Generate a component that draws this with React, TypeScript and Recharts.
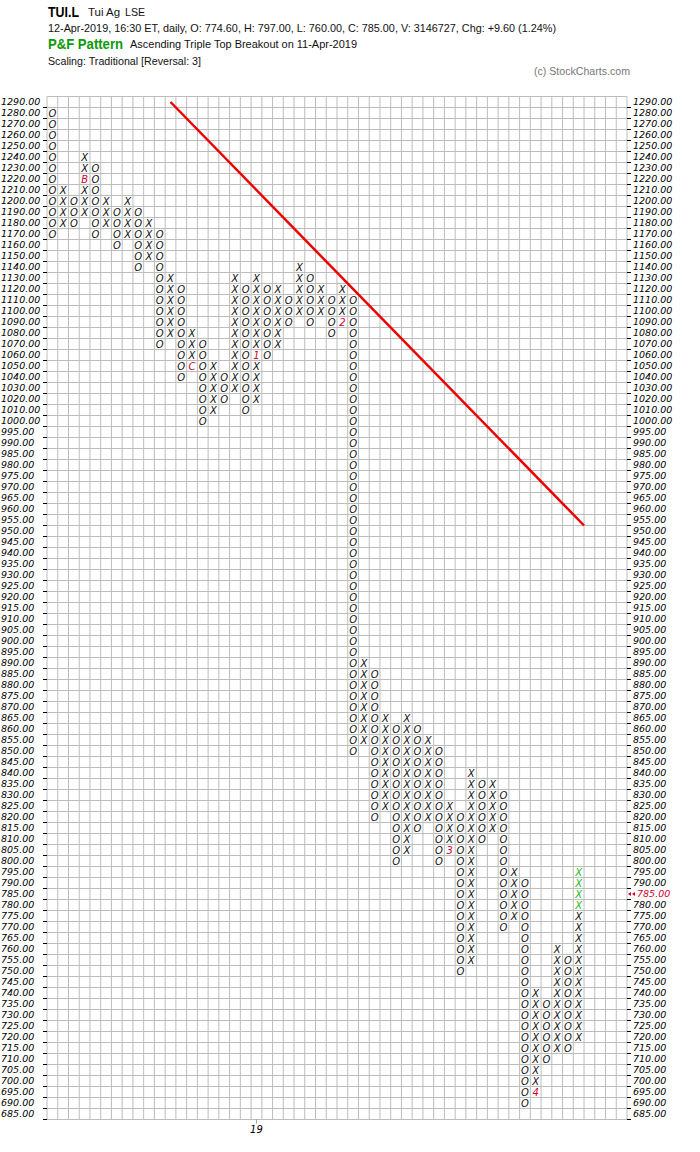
import React from 'react';
import {
  ScatterChart,
  Scatter,
  XAxis,
  YAxis,
  CartesianGrid,
  ReferenceLine,
} from 'recharts';

// Box ladder, top to bottom (10-point boxes above 1000, 5-point below)
const PRICE_LEVELS = [
  1290, 1280, 1270, 1260, 1250, 1240, 1230, 1220, 1210, 1200,
  1190, 1180, 1170, 1160, 1150, 1140, 1130, 1120, 1110, 1100,
  1090, 1080, 1070, 1060, 1050, 1040, 1030, 1020, 1010, 1000,
  995, 990, 985, 980, 975, 970, 965, 960, 955, 950,
  945, 940, 935, 930, 925, 920, 915, 910, 905, 900,
  895, 890, 885, 880, 875, 870, 865, 860, 855, 850,
  845, 840, 835, 830, 825, 820, 815, 810, 805, 800,
  795, 790, 785, 780, 775, 770, 765, 760, 755, 750,
  745, 740, 735, 730, 725, 720, 715, 710, 705, 700,
  695, 690, 685,
];

// One entry per P&F column: direction, top box, bottom box
const COL_TYPES = [
  'O', 'X', 'O', 'X', 'O', 'X', 'O', 'X', 'O', 'X',
  'O', 'X', 'O', 'X', 'O', 'X', 'O', 'X', 'O', 'X',
  'O', 'X', 'O', 'X', 'O', 'X', 'O', 'X', 'O', 'X',
  'O', 'X', 'O', 'X', 'O', 'X', 'O', 'X', 'O', 'X',
  'O', 'X', 'O', 'X', 'O', 'X', 'O', 'X', 'O', 'X',
];
const COL_HIGHS = [
  1280, 1210, 1200, 1240, 1230, 1200, 1190, 1200, 1190, 1180,
  1170, 1130, 1120, 1080, 1070, 1050, 1040, 1130, 1120, 1130,
  1120, 1120, 1110, 1140, 1130, 1120, 1110, 1120, 1110, 890,
  885, 865, 860, 865, 860, 855, 850, 825, 820, 840,
  835, 835, 830, 795, 790, 740, 735, 760, 755, 795,
];
const COL_LOWS = [
  1170, 1180, 1180, 1190, 1170, 1180, 1160, 1170, 1140, 1150,
  1070, 1080, 1040, 1050, 1000, 1010, 1020, 1030, 1010, 1020,
  1060, 1070, 1090, 1100, 1090, 1100, 1080, 1090, 850, 855,
  820, 825, 800, 805, 815, 820, 800, 805, 750, 755,
  810, 815, 770, 775, 690, 695, 710, 715, 715, 720,
];

// Month markers written in place of a box
const MARK_COLS = [3, 13, 19, 27, 37, 45];
const MARK_PRICES = [1220, 1050, 1060, 1090, 805, 695];
const MARK_TEXT = ['B', 'C', '1', '2', '3', '4'];

// Boxes added in the latest session
const NEW_COL = 49;
const NEW_PRICES = [780, 785, 790, 795];

// Year marker along the bottom
const YEAR_COLS = [19];
const YEAR_TEXT = ['19'];

// Bearish resistance line
const TREND_COLS = [11, 49.5];
const TREND_PRICES = [1290, 952.5];

const LAST_CLOSE = 785;
const GRID_COLS = 54;

const TICKER = 'TUI.L';
const NAME = 'Tui Ag';
const EXCHANGE = 'LSE';
const QUOTE_LINE =
  '12-Apr-2019, 16:30 ET, daily, O: 774.60, H: 797.00, L: 760.00, C: 785.00, V: 3146727, Chg: +9.60 (1.24%)';
const PATTERN = 'Ascending Triple Top Breakout on 11-Apr-2019';
const SCALING = 'Scaling: Traditional [Reversal: 3]';

const CRIMSON = '#cc0033';
const GREEN = '#22bb22';

// row index on the P&F price scale (box size changes at 1000)
const rowOf = (p: number) => (p >= 1000 ? (1290 - p) / 10 : 29 + (1000 - p) / 5);

const boxes: any[] = [];
COL_TYPES.forEach((t, c) => {
  PRICE_LEVELS.forEach((p) => {
    if (p > COL_HIGHS[c] || p < COL_LOWS[c]) return;
    const m = MARK_COLS.findIndex((mc, j) => mc === c && MARK_PRICES[j] === p);
    let glyph = t;
    let color = '#111';
    if (m >= 0) {
      glyph = MARK_TEXT[m];
      color = CRIMSON;
    } else if (c === NEW_COL && NEW_PRICES.includes(p)) {
      color = GREEN;
    }
    boxes.push({ col: c, row: rowOf(p), glyph, color });
  });
});

const colBounds = Array.from({ length: GRID_COLS + 1 }, (_, i) => i - 0.5);
const rowBounds = Array.from({ length: PRICE_LEVELS.length + 1 }, (_, i) => i - 0.5);
const rowTicks = PRICE_LEVELS.map((_, i) => i);
const rowDomain = [-0.5, PRICE_LEVELS.length - 0.5];
const colDomain = [-0.5, GRID_COLS - 0.5];

const labelFont = { fontFamily: 'DejaVu Sans', fontStyle: 'italic', fontSize: 9.5 } as const;

const BoxGlyph = (props: any) => {
  const { cx, cy, payload } = props;
  if (cx == null || cy == null) return null;
  return (
    <text
      x={cx}
      y={cy}
      dy="0.37em"
      textAnchor="middle"
      fontFamily="DejaVu Sans"
      fontStyle="italic"
      fontSize={10}
      fill={payload.color}
    >
      {payload.glyph}
    </text>
  );
};

const LeftTick = (props: any) => {
  const { x, y, payload } = props;
  const price = PRICE_LEVELS[payload.value];
  return (
    <g>
      <text x={x - 46} y={y} dy="0.36em" fill="#000" {...labelFont}>
        {price.toFixed(2)}
      </text>
      <line x1={x - 4} x2={x} y1={y + 5.5} y2={y + 5.5} stroke="#000" />
    </g>
  );
};

const RightTick = (props: any) => {
  const { x, y, payload } = props;
  const price = PRICE_LEVELS[payload.value];
  const last = price === LAST_CLOSE;
  return (
    <g>
      <line x1={x} x2={x + 4} y1={y + 5.5} y2={y + 5.5} stroke="#000" />
      {last && (
        <g fill={CRIMSON}>
          <polygon points={`${x + 1},${y} ${x + 4},${y - 2} ${x + 4},${y + 2}`} />
          <polygon points={`${x + 5},${y} ${x + 8},${y - 2} ${x + 8},${y + 2}`} />
        </g>
      )}
      <text x={x + (last ? 10 : 6)} y={y} dy="0.36em" fill={last ? CRIMSON : '#000'} {...labelFont}>
        {price.toFixed(2)}
      </text>
    </g>
  );
};

const YearTick = (props: any) => {
  const { x, y, payload } = props;
  const label = YEAR_TEXT[YEAR_COLS.indexOf(Math.round(payload.value))];
  return (
    <g>
      <line x1={x} x2={x} y1={y - 6} y2={y - 2} stroke="#999" />
      <text x={x} y={y} dy="0.71em" textAnchor="middle" fill="#000" fontFamily="DejaVu Sans" fontStyle="italic" fontSize={10}>
        {label}
      </text>
    </g>
  );
};

export default function App() {
  const hdr = { fontFamily: 'Liberation Sans', fontSize: 10.5, fill: '#111' } as const;
  return (
    <div style={{ position: 'absolute', left: 0, top: 0, width: 700, height: 1152, background: '#fff' }}>
      <ScatterChart
        width={700}
        height={1152}
        margin={{ top: 96.5, right: 0, bottom: 12.5, left: 0 }}
        style={{ position: 'absolute', left: 0, top: 0 }}
      >
        <XAxis
          xAxisId="year"
          type="number"
          dataKey="col"
          domain={colDomain}
          allowDataOverflow
          ticks={YEAR_COLS}
          interval={0}
          axisLine={false}
          tickLine={false}
          tickSize={4}
          tickMargin={2}
          height={20}
          tick={(p: any) => <YearTick {...p} />}
        />
        <XAxis
          xAxisId="col"
          type="number"
          dataKey="col"
          domain={colDomain}
          allowDataOverflow
          ticks={colBounds}
          interval={0}
          height={0}
          hide
        />
        <YAxis
          yAxisId="row"
          type="number"
          dataKey="row"
          domain={rowDomain}
          allowDataOverflow
          reversed
          ticks={rowBounds}
          interval={0}
          width={0}
          hide
        />
        <YAxis
          yAxisId="left"
          orientation="left"
          type="number"
          domain={rowDomain}
          allowDataOverflow
          reversed
          ticks={rowTicks}
          interval={0}
          width={47}
          axisLine={false}
          tickLine={false}
          tickSize={0}
          tickMargin={0}
          tick={(p: any) => <LeftTick {...p} />}
        />
        <YAxis
          yAxisId="right"
          orientation="right"
          type="number"
          domain={rowDomain}
          allowDataOverflow
          reversed
          ticks={rowTicks}
          interval={0}
          width={73}
          axisLine={false}
          tickLine={false}
          tickSize={0}
          tickMargin={0}
          tick={(p: any) => <RightTick {...p} />}
        />
        <CartesianGrid xAxisId="col" yAxisId="row" stroke="#bdbdbd" strokeWidth={1} />
        <ReferenceLine
          xAxisId="col"
          yAxisId="row"
          segment={[
            { x: TREND_COLS[0], y: rowOf(TREND_PRICES[0]) },
            { x: TREND_COLS[1], y: rowOf(TREND_PRICES[1]) },
          ]}
          stroke="#ee0000"
          strokeWidth={2.5}
        />
        <Scatter
          xAxisId="col"
          yAxisId="row"
          data={boxes}
          shape={(p: any) => <BoxGlyph {...p} />}
          isAnimationActive={false}
        />
      </ScatterChart>
      <svg width={700} height={90} style={{ position: 'absolute', left: 0, top: 0 }}>
        <text x={48} y={17} {...hdr} fontSize={14} fontWeight="bold" fill="#000" textLength={31} lengthAdjust="spacingAndGlyphs">
          {TICKER}
        </text>
        <text x={88} y={16} {...hdr} fontSize={11} textLength={32} lengthAdjust="spacingAndGlyphs">
          {NAME}
        </text>
        <text x={125} y={16} {...hdr} fontSize={11} textLength={20} lengthAdjust="spacingAndGlyphs">
          {EXCHANGE}
        </text>
        <text x={48} y={32} {...hdr} textLength={508} lengthAdjust="spacingAndGlyphs">
          {QUOTE_LINE}
        </text>
        <text x={48} y={49} {...hdr} fontSize={14} fontWeight="bold" fill="#0a9a0a" textLength={75} lengthAdjust="spacingAndGlyphs">
          P&amp;F Pattern
        </text>
        <text x={130} y={48} {...hdr} textLength={227} lengthAdjust="spacingAndGlyphs">
          {PATTERN}
        </text>
        <text x={48} y={65} {...hdr} textLength={153} lengthAdjust="spacingAndGlyphs">
          {SCALING}
        </text>
        <text x={534} y={75} {...hdr} fill="#777" textLength={96} lengthAdjust="spacingAndGlyphs">
          (c) StockCharts.com
        </text>
      </svg>
    </div>
  );
}
